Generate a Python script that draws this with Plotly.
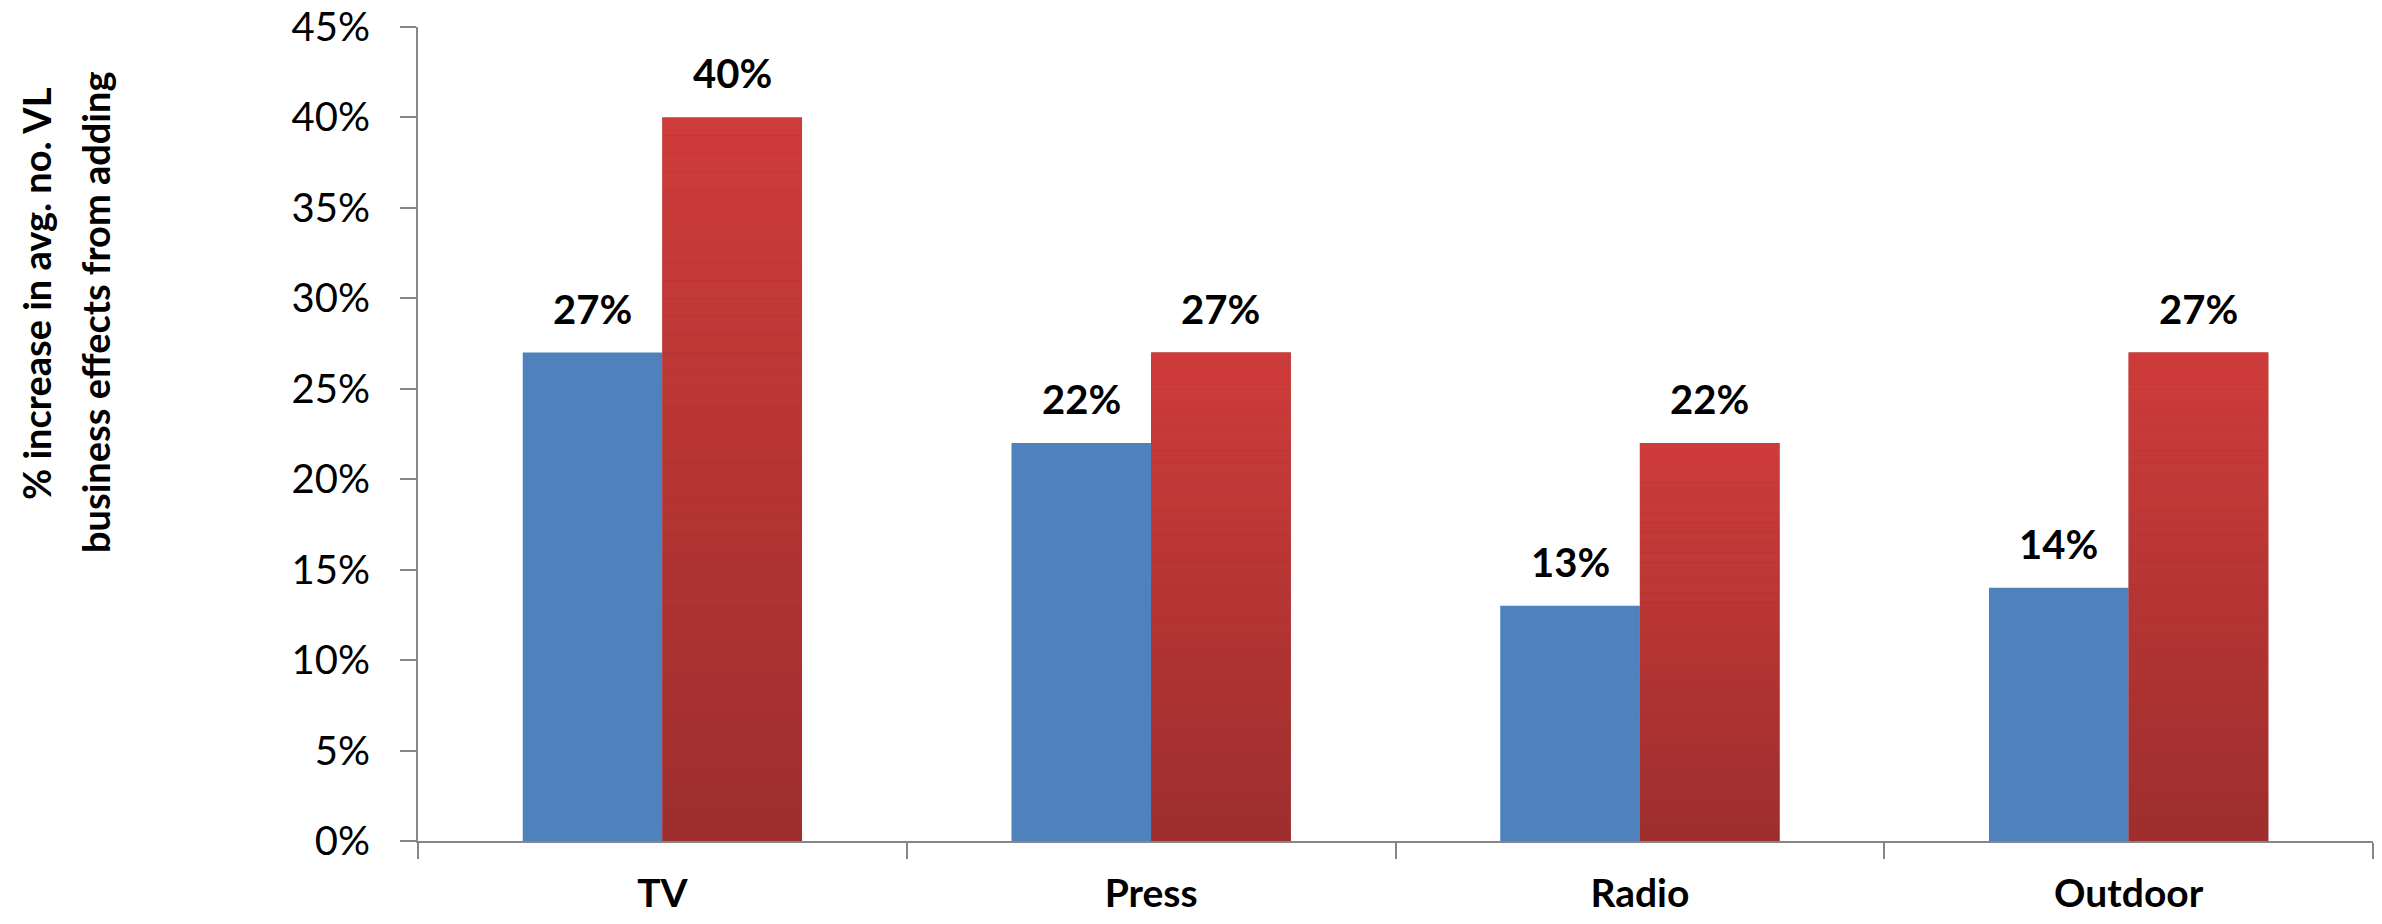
import plotly.graph_objects as go

categories = ["TV", "Press", "Radio", "Outdoor"]
series_a = [0.27, 0.22, 0.13, 0.14]
series_b = [0.40, 0.27, 0.22, 0.27]
y_ticks = [0, 0.05, 0.10, 0.15, 0.20, 0.25, 0.30, 0.35, 0.40, 0.45]
axis_title_lines = ["% increase in avg. no. VL", "business effects from adding"]

BLUE = "#4F81BD"
RED_BOTTOM = (157, 46, 46)
RED_TOP = (206, 60, 58)
AXIS = "#868686"
FONT = "Lato"

W, H = 2382, 924
ML, MR, MT, MB = 418, 9, 27, 83
BARGAP = 3 / 7

fig = go.Figure()

fig.add_trace(go.Bar(
    x=categories, y=series_a, offsetgroup="a",
    marker=dict(color=BLUE, line=dict(width=0)), hoverinfo="x+y", showlegend=False,
))
fig.add_trace(go.Bar(
    x=categories, y=series_b, offsetgroup="b",
    marker=dict(color="rgb(%d,%d,%d)" % RED_BOTTOM, line=dict(width=0)),
    hoverinfo="x+y", showlegend=False,
))

# vertical gradient on red bars built from stacked slices of each value
N = 40
for i in range(N):
    t = (i + 0.5) / N
    col = tuple(round(RED_BOTTOM[k] + (RED_TOP[k] - RED_BOTTOM[k]) * t) for k in range(3))
    fig.add_trace(go.Bar(
        x=categories,
        y=[v / N for v in series_b],
        base=[v * i / N for v in series_b],
        offsetgroup="b",
        marker=dict(color="rgb(%d,%d,%d)" % col, line=dict(width=0)),
        hoverinfo="skip", showlegend=False,
    ))

plot_w = W - ML - MR
bar_w = plot_w / len(categories) * (1 - BARGAP) / 2
off = bar_w / 2

annotations = []
for c, a, b in zip(categories, series_a, series_b):
    for v, s in ((a, -off), (b, off)):
        annotations.append(dict(
            x=c, y=v, xref="x", yref="y", text="<b>%d%%</b>" % round(v * 100),
            showarrow=False, xanchor="center", yanchor="bottom",
            xshift=s, yshift=18,
            font=dict(family=FONT, size=40, color="black"),
        ))

plot_h = H - MT - MB
title_pos = [(36, 294), (95, 312)]
for line, (px, py) in zip(axis_title_lines, title_pos):
    annotations.append(dict(
        x=0, y=(H - MB - py) / plot_h, xref="paper", yref="paper",
        text="<b>%s</b>" % line, textangle=-90, showarrow=False,
        xanchor="center", yanchor="middle", xshift=px - ML,
        font=dict(family=FONT, size=38, color="black"),
    ))

fig.update_layout(
    width=W, height=H,
    margin=dict(l=ML, r=MR, t=MT, b=MB, pad=0, autoexpand=False),
    paper_bgcolor="white", plot_bgcolor="white",
    barmode="group", bargap=BARGAP, bargroupgap=0,
    showlegend=False,
    annotations=annotations,
    font=dict(family=FONT, color="black"),
)
fig.update_xaxes(
    type="category", tickson="boundaries", automargin=False,
    showline=True, linecolor=AXIS, linewidth=2,
    ticks="outside", ticklen=16, tickwidth=2, tickcolor=AXIS,
    tickfont=dict(family=FONT, size=39, color="black", weight="bold"),
    ticklabelstandoff=17,
    showgrid=False, zeroline=False,
)
fig.update_yaxes(
    range=[0, 0.45], tickvals=y_ticks, tickformat=".0%", automargin=False,
    showline=True, linecolor=AXIS, linewidth=2,
    ticks="outside", ticklen=16, tickwidth=2, tickcolor=AXIS,
    tickfont=dict(family=FONT, size=40, color="black"),
    ticklabelstandoff=22,
    showgrid=False, zeroline=False,
)

fig.write_html("out.html")
